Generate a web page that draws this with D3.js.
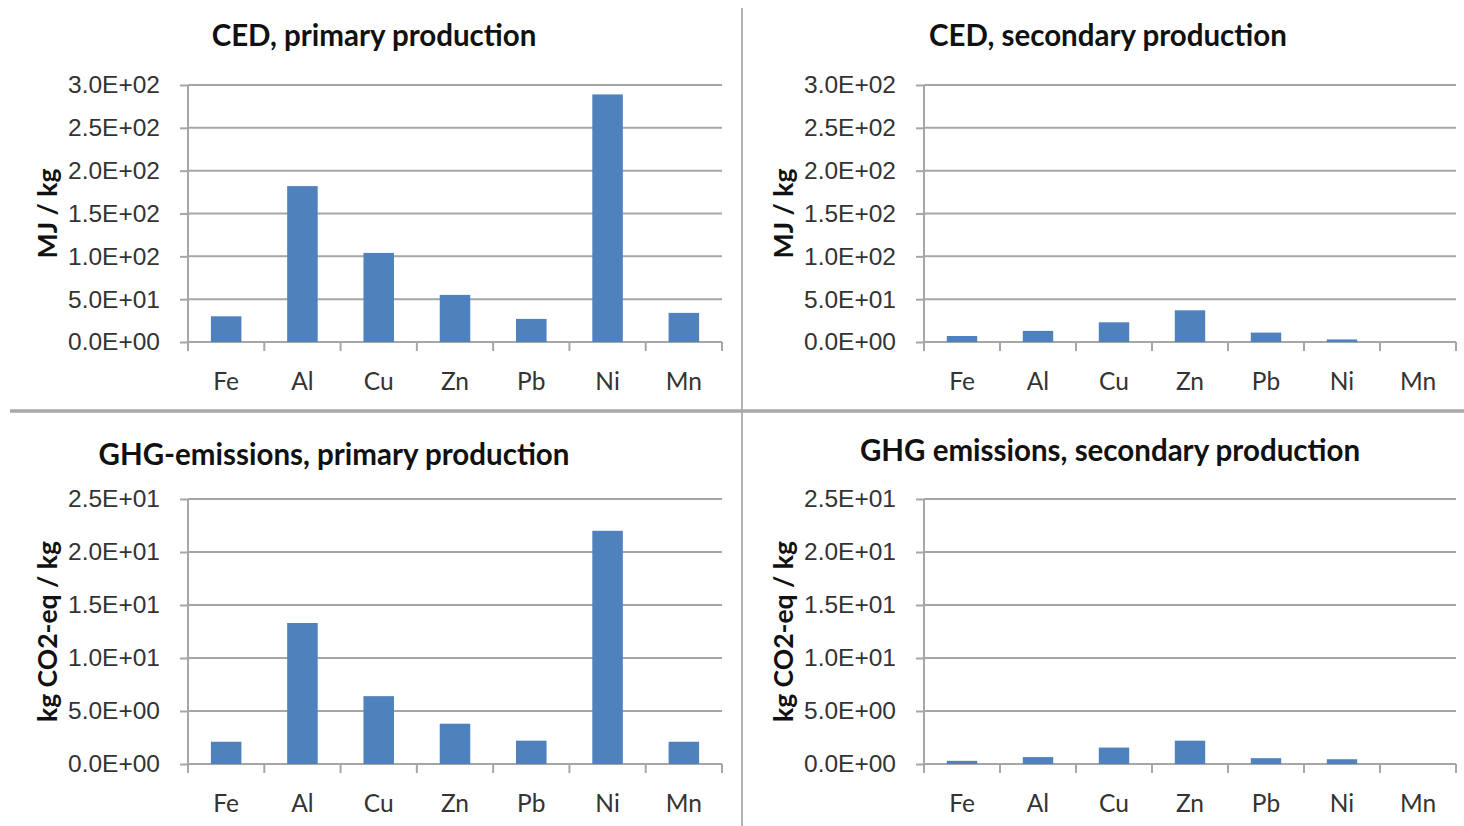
<!DOCTYPE html>
<html>
<head>
<meta charset="utf-8">
<script src="https://cdn.jsdelivr.net/npm/d3@7"></script>
<style>
  html, body { margin: 0; padding: 0; background: #fff; }
  svg { display: block; font-family: Lato, "Open Sans", sans-serif; }
  .tick-label { fill: #333; font-size: 24.5px; }
  .title { fill: #111; font-size: 29.5px; font-weight: bold; }
  .ytitle { fill: #111; font-size: 26.5px; font-weight: bold; }
</style>
</head>
<body>
<script>
// chart data
const metals = ['Fe', 'Al', 'Cu', 'Zn', 'Pb', 'Ni', 'Mn'];
const cedPrimary = [30, 182, 104, 55, 27, 289, 34];
const cedSecondary = [7, 13, 23, 37, 11, 3, 0];
const ghgPrimary = [2.1, 13.3, 6.4, 3.8, 2.2, 22.0, 2.1];
const ghgSecondary = [0.3, 0.65, 1.55, 2.2, 0.55, 0.45, 0];
const cedTicks = [0, 50, 100, 150, 200, 250, 300];
const ghgTicks = [0, 5, 10, 15, 20, 25];

const W = 1464, H = 826;
const BAR = '#4f81bd';
const GRID = '#a6a6a6';

const svg = d3.select('body').append('svg')
  .attr('width', W)
  .attr('height', H);

// panel dividers
svg.append('line')
  .attr('x1', 742).attr('x2', 742).attr('y1', 8).attr('y2', H)
  .attr('stroke', '#9a9a9a').attr('stroke-width', 1.5);
svg.append('line')
  .attr('x1', 10).attr('x2', W).attr('y1', 411).attr('y2', 411)
  .attr('stroke', '#a8a8a8').attr('stroke-width', 3.5);

// Excel style number format, e.g. 3.0E+02
function sci(v) {
  if (v === 0) return '0.0E+00';
  let e = Math.floor(Math.log10(Math.abs(v)));
  let m = v / Math.pow(10, e);
  let sign = e < 0 ? '-' : '+';
  return m.toFixed(1) + 'E' + sign + String(Math.abs(e)).padStart(2, '0');
}

function drawPanel(p) {
  let g = svg.append('g');

  let x = d3.scaleBand()
    .domain(metals)
    .range([p.left, p.right])
    .paddingInner(0.6)
    .paddingOuter(0.3);

  let y = d3.scaleLinear()
    .domain([0, d3.max(p.ticks)])
    .range([p.zero, p.top]);

  // gridlines
  g.selectAll('.grid')
    .data(p.ticks.slice(1))
    .enter()
    .append('line')
    .attr('x1', p.left).attr('x2', p.right)
    .attr('y1', d => y(d)).attr('y2', d => y(d))
    .attr('stroke', GRID).attr('stroke-width', 2);

  // y axis
  let yAxis = d3.axisLeft(y)
    .tickValues(p.ticks)
    .tickFormat(sci)
    .tickSize(8)
    .tickPadding(20);
  let ya = g.append('g')
    .attr('transform', 'translate(' + p.left + ',0)')
    .call(yAxis);
  ya.select('.domain').attr('stroke', GRID).attr('stroke-width', 2).attr('d', 'M0,' + p.top + 'V' + p.zero);
  ya.selectAll('.tick line').attr('stroke', GRID).attr('stroke-width', 2);
  ya.selectAll('.tick text')
    .attr('class', 'tick-label')
    .attr('font-family', null)
    .attr('font-size', null)
    .attr('fill', null);

  // x axis with ticks between categories
  let bounds = d3.range(metals.length + 1).map(i => p.left + i * (p.right - p.left) / metals.length);
  g.append('line')
    .attr('x1', p.left).attr('x2', p.right)
    .attr('y1', p.zero).attr('y2', p.zero)
    .attr('stroke', GRID).attr('stroke-width', 2);
  g.selectAll('.xtick')
    .data(bounds)
    .enter()
    .append('line')
    .attr('x1', d => d).attr('x2', d => d)
    .attr('y1', p.zero).attr('y2', p.zero + 9)
    .attr('stroke', GRID).attr('stroke-width', 2);

  g.selectAll('.xlabel')
    .data(metals)
    .enter()
    .append('text')
    .attr('class', 'tick-label')
    .attr('text-anchor', 'middle')
    .attr('x', d => x(d) + x.bandwidth() / 2)
    .attr('y', p.zero + 48)
    .text(d => d);

  // bars
  g.selectAll('.bar')
    .data(p.values)
    .enter()
    .append('rect')
    .attr('x', (d, i) => x(metals[i]))
    .attr('width', x.bandwidth())
    .attr('y', d => y(d))
    .attr('height', d => p.zero - y(d))
    .attr('fill', BAR);

  // titles
  g.append('text')
    .attr('class', 'title')
    .attr('text-anchor', 'middle')
    .attr('x', p.titleX)
    .attr('y', p.titleY)
    .text(p.title);

  g.append('text')
    .attr('class', 'ytitle')
    .attr('text-anchor', 'middle')
    .attr('transform', 'translate(' + p.yTitleX + ',' + ((p.top + p.zero) / 2) + ') rotate(-90)')
    .text(p.yTitle);
}

drawPanel({ left: 188, right: 722, top: 85, zero: 342, ticks: cedTicks, values: cedPrimary,
  title: 'CED, primary production', titleX: 374, titleY: 46, yTitle: 'MJ / kg', yTitleX: 57 });
drawPanel({ left: 924, right: 1456, top: 85, zero: 342, ticks: cedTicks, values: cedSecondary,
  title: 'CED, secondary production', titleX: 1108, titleY: 46, yTitle: 'MJ / kg', yTitleX: 793 });
drawPanel({ left: 188, right: 722, top: 499, zero: 764, ticks: ghgTicks, values: ghgPrimary,
  title: 'GHG-emissions, primary production', titleX: 334, titleY: 465, yTitle: 'kg CO2-eq / kg', yTitleX: 57 });
drawPanel({ left: 924, right: 1456, top: 499, zero: 764, ticks: ghgTicks, values: ghgSecondary,
  title: 'GHG emissions, secondary production', titleX: 1110, titleY: 461, yTitle: 'kg CO2-eq / kg', yTitleX: 793 });
</script>
</body>
</html>
